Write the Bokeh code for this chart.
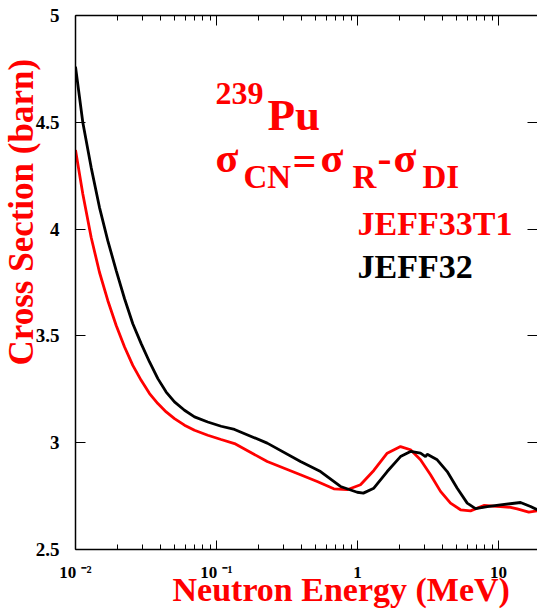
from bokeh.plotting import figure
from bokeh.models import Label, LinearAxis, LogAxis, FixedTicker, Title
from bokeh.embed import file_html
from bokeh.resources import INLINE

# ---------------- data ----------------
energy_jeff33t1 = [0.01, 0.01127, 0.01291, 0.01479, 0.01694, 0.01944, 0.02228, 0.02549,
                   0.02922, 0.0335, 0.03837, 0.04397, 0.05035, 0.05929, 0.06982, 0.0867,
                   0.1078, 0.1342, 0.2289, 0.3941, 0.5177, 0.6789, 0.8451,
                   1.050, 1.305, 1.624, 2.018, 2.376, 2.797, 3.294, 3.879, 4.566,
                   5.377, 6.330, 7.865, 10.33, 12.17, 13.57, 16.40, 18.82]
xs_jeff33t1 = [4.37, 4.164, 3.962, 3.798, 3.666, 3.549, 3.448, 3.362,
               3.292, 3.230, 3.183, 3.144, 3.113, 3.082, 3.058, 3.035,
               3.015, 2.996, 2.912, 2.850, 2.818, 2.784, 2.780,
               2.803, 2.870, 2.951, 2.982, 2.967, 2.920, 2.850, 2.772, 2.717,
               2.686, 2.681, 2.706, 2.701, 2.697, 2.690, 2.675, 2.681]

energy_jeff32 = [0.01, 0.01127, 0.01291, 0.01479, 0.01694, 0.01944, 0.02228, 0.02549,
                 0.02922, 0.0335, 0.03837, 0.04397, 0.05035, 0.05929, 0.06982, 0.0867,
                 0.1078, 0.1342, 0.2289, 0.3941, 0.5465, 0.7575, 0.995,
                 1.10, 1.305, 1.624, 2.018, 2.376, 2.797, 3.035, 3.121, 3.675,
                 4.327, 5.095, 5.998, 6.869, 8.317, 10.33, 14.32, 16.87, 18.82]
xs_jeff32 = [4.76, 4.499, 4.289, 4.102, 3.946, 3.806, 3.674, 3.557,
             3.464, 3.378, 3.300, 3.237, 3.191, 3.152, 3.121, 3.097,
             3.077, 3.062, 2.998, 2.912, 2.865, 2.795, 2.768,
             2.764, 2.787, 2.865, 2.935, 2.959, 2.951, 2.935, 2.946, 2.920,
             2.865, 2.787, 2.717, 2.691, 2.701, 2.709, 2.720, 2.701, 2.686]

y_ticks = [2.5, 3.0, 3.5, 4.0, 4.5, 5.0]
y_tick_labels = ["2.5", "3", "3.5", "4", "4.5", "5"]
x_ticks = [0.01, 0.1, 1.0, 10.0]
x_tick_labels = ["10 \u207b\u00b2", "10 \u207b\u00b9", "1", "10"]
x_minor = [m * 10.0 ** d for d in (-2, -1, 0, 1) for m in range(2, 10)]

X_END = 18.9
FONT = "Liberation Serif"
RED = "#ff0000"

p = figure(width=537, height=609, x_axis_type="log",
           x_range=(0.01, X_END), y_range=(2.5, 5.0),
           output_backend="svg", toolbar_location=None,
           min_border_left=75, min_border_right=0, min_border_top=15,
           min_border_bottom=60)
p.outline_line_color = None
p.xgrid.visible = False
p.ygrid.visible = False
p.background_fill_color = "white"
p.border_fill_color = "white"

# left axis
ya = p.yaxis[0]
ya.ticker = FixedTicker(ticks=y_ticks)
ya.major_label_overrides = dict(zip(y_ticks, y_tick_labels))
ya.major_tick_in = 10
ya.major_tick_out = 0
ya.minor_tick_in = 0
ya.minor_tick_out = 0
ya.major_label_standoff = 16
ya.major_label_text_font = FONT
ya.major_label_text_font_style = "bold"
ya.major_label_text_font_size = "19px"
ya.major_label_text_color = "black"
ya.axis_line_width = 1.5

# bottom axis
xa = p.xaxis[0]
xa.ticker = FixedTicker(ticks=x_ticks, minor_ticks=x_minor)
xa.major_label_overrides = dict(zip(x_ticks, x_tick_labels))
xa.major_tick_in = 9
xa.major_tick_out = 0
xa.minor_tick_in = 5
xa.minor_tick_out = 0
xa.major_label_standoff = 13
xa.major_label_text_font = FONT
xa.major_label_text_font_style = "bold"
xa.major_label_text_font_size = "17px"
xa.major_label_text_color = "black"
xa.axis_line_width = 1.5

HIDDEN = dict(major_label_text_font_size="1px", major_label_text_alpha=0,
              major_label_standoff=0)

# top axis (ticks only)
top = LogAxis(ticker=FixedTicker(ticks=x_ticks, minor_ticks=x_minor),
              major_tick_in=10, major_tick_out=0, minor_tick_in=5, minor_tick_out=0,
              axis_line_width=1.5, **HIDDEN)
p.add_layout(top, "above")

# right axis (ticks only, its border line lies outside the reference crop)
right = LinearAxis(ticker=FixedTicker(ticks=y_ticks),
                   major_tick_in=10, major_tick_out=0, minor_tick_in=0, minor_tick_out=0,
                   axis_line_color=None, **HIDDEN)
p.add_layout(right, "right")

# axis titles (side-panel titles)
p.add_layout(Title(text="Cross Section (barn)", align="left", vertical_align="middle",
                   offset=184, standoff=-19, text_font=FONT, text_font_style="bold",
                   text_font_size="35px", text_color=RED), "left")
p.add_layout(Title(text="Neutron Energy (MeV)", align="left", vertical_align="middle",
                   offset=97, standoff=-29, text_font=FONT, text_font_style="bold",
                   text_font_size="34px", text_color=RED), "below")

# curves
p.line(energy_jeff33t1, xs_jeff33t1, line_color=RED, line_width=2.8)
p.line(energy_jeff32, xs_jeff32, line_color="black", line_width=2.8)

# annotations inside the frame
def note(x, y, text, size, color=RED):
    p.add_layout(Label(x=x, y=y, y_offset=round(0.36 * size), text=text,
                       text_align="left", text_baseline="alphabetic", text_font=FONT,
                       text_font_style="bold", text_font_size=f"{size}px",
                       text_color=color))

note(0.0984, 4.577, "239", 32)
note(0.2300, 4.460, "Pu", 45)
note(0.0984, 4.264, "σ", 42)
note(0.1554, 4.189, "CN", 33)
note(0.3459, 4.250, "=", 42)
note(0.5465, 4.264, "σ", 42)
note(0.9215, 4.189, "R", 33)
note(1.386, 4.264, "-", 42)
note(1.800, 4.264, "σ", 42)
note(2.891, 4.189, "DI", 33)
note(1.0, 3.970, "JEFF33T1", 34)
note(1.0, 3.769, "JEFF32", 34, color="black")

open("out.html", "w").write(file_html(p, INLINE))
